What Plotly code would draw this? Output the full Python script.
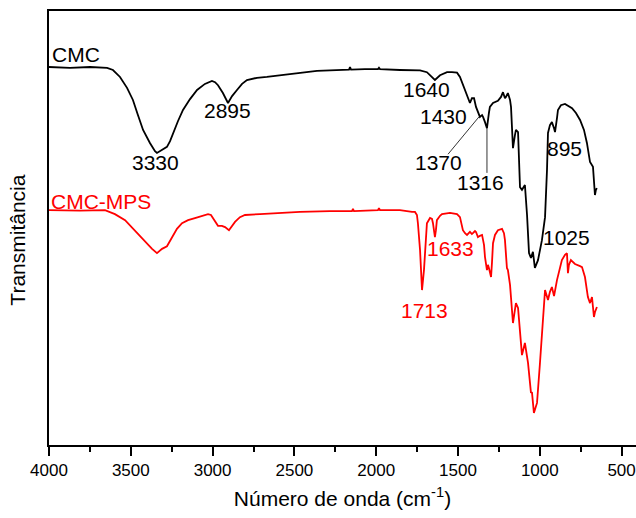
import plotly.graph_objects as go

# CMC spectrum (wavenumber cm-1, transmittance a.u.)
cmc_wn = [4000, 3872, 3749, 3645, 3609, 3566, 3523, 3487, 3456, 3425, 3383, 3352, 3340, 3309,
          3279, 3260, 3242, 3212, 3181, 3138, 3095, 3047, 3004, 2985, 2967, 2937, 2906, 2881,
          2851, 2820, 2790, 2729, 2668, 2570, 2466, 2362, 2283, 2166, 2160, 2154, 2069, 1989,
          1983, 1977, 1855, 1732, 1690, 1665, 1641, 1610, 1567, 1537, 1506, 1488, 1464, 1445,
          1427, 1415, 1402, 1390, 1378, 1366, 1353, 1347, 1335, 1323, 1311, 1305, 1286, 1256,
          1237, 1225, 1213, 1207, 1195, 1182, 1176, 1170, 1164, 1152, 1146, 1133, 1127, 1121,
          1109, 1091, 1078, 1066, 1054, 1042, 1030, 1011, 987, 968, 956, 950, 938, 926, 913,
          907, 895, 889, 871, 846, 803, 779, 754, 730, 712, 700, 693, 675, 669, 663, 657, 651]
cmc_t = [87.1, 86.9, 87.1, 86.9, 86.4, 84.8, 82.3, 79.5, 76.0, 72.6, 69.6, 67.7, 67.3, 68.0,
         68.7, 70.0, 71.9, 74.6, 77.2, 79.7, 81.8, 83.2, 83.9, 83.6, 82.9, 81.1, 78.8, 80.4,
         81.8, 83.2, 84.1, 84.6, 84.8, 85.2, 85.7, 86.2, 86.3, 86.5, 87.1, 86.5, 86.6, 86.6,
         86.9, 86.6, 86.4, 86.3, 85.9, 85.0, 84.1, 85.2, 85.9, 85.9, 85.8, 84.8, 82.3, 80.6,
         78.8, 79.9, 79.9, 77.9, 76.5, 75.6, 76.0, 75.6, 74.4, 73.0, 76.5, 77.9, 78.8, 79.3,
         80.2, 81.3, 79.9, 80.2, 81.1, 79.5, 77.9, 72.6, 68.4, 71.4, 72.6, 72.1, 65.7, 59.4,
         58.8, 59.9, 53.0, 44.2, 43.1, 44.5, 40.8, 42.6, 47.2, 52.5, 63.4, 71.9, 73.7, 74.4, 73.0,
         72.1, 75.3, 77.2, 78.3, 78.6, 77.6, 76.5, 74.9, 72.6, 69.6, 66.8, 65.2, 64.1, 61.1, 57.6,
         58.8, 59.2]

# CMC-MPS spectrum
mps_wn = [4000, 3811, 3658, 3597, 3535, 3474, 3413, 3370, 3340, 3309, 3279, 3248, 3218, 3187,
          3150, 3108, 3065, 3028, 3010, 2998, 2979, 2967, 2943, 2924, 2900, 2881, 2863, 2833,
          2802, 2710, 2600, 2466, 2283, 2148, 2142, 2136, 1989, 1983, 1977, 1855, 1781, 1763,
          1751, 1745, 1732, 1726, 1720, 1708, 1702, 1690, 1671, 1659, 1653, 1641, 1635, 1629,
          1610, 1598, 1549, 1506, 1488, 1476, 1470, 1457, 1445, 1427, 1415, 1409, 1396, 1390,
          1378, 1366, 1353, 1341, 1335, 1323, 1317, 1311, 1298, 1292, 1286, 1274, 1256, 1231,
          1219, 1213, 1207, 1201, 1195, 1182, 1164, 1146, 1133, 1121, 1109, 1091, 1072, 1054,
          1048, 1036, 1017, 999, 981, 968, 950, 938, 926, 913, 895, 877, 865, 846, 834, 828,
          822, 810, 785, 754, 742, 724, 706, 693, 681, 675, 669, 663, 651]
mps_t = [54.1, 54.0, 54.1, 53.2, 51.8, 49.3, 46.8, 45.2, 44.2, 45.2, 45.8, 47.9, 49.8, 51.1,
         51.8, 52.3, 52.8, 53.2, 53.0, 52.3, 50.9, 50.5, 50.5, 50.2, 49.5, 50.5, 51.4, 52.5,
         53.0, 53.2, 53.5, 53.7, 53.9, 53.9, 54.4, 53.9, 54.1, 54.6, 54.1, 54.1, 53.7, 53.7,
         53.0, 51.1, 44.9, 41.0, 35.7, 40.3, 44.9, 51.1, 52.3, 52.1, 51.1, 47.9, 49.5, 51.8,
         52.8, 53.2, 53.5, 53.2, 52.5, 50.7, 49.5, 48.8, 48.4, 49.1, 48.6, 48.8, 49.3, 49.1,
         47.9, 48.2, 48.4, 46.1, 43.3, 40.3, 41.5, 40.8, 38.7, 42.2, 46.5, 48.4, 49.5, 49.8,
         48.8, 47.2, 43.8, 40.8, 40.3, 36.9, 28.1, 32.7, 31.6, 26.5, 20.7, 23.5, 18.9, 12.0,
         12.2, 7.4, 9.7, 18.9, 29.5, 35.7, 33.4, 35.3, 36.4, 34.3, 38.0, 40.8, 42.6, 43.8, 44.2,
         39.6, 41.5, 42.6, 41.7, 41.2, 41.0, 38.7, 34.1, 32.7, 34.1, 31.8, 29.5, 30.6, 31.8]

# Peak labels: (text, x, y)
cmc_labels = ["CMC", "3330", "2895", "1640", "1430", "1370", "1316", "895", "1025"]
cmc_label_x = [3838, 3346, 2906, 1690, 1586, 1622, 1360, 852, 834]
cmc_label_y = [89.9, 65.2, 77.0, 82.0, 75.8, 65.0, 60.4, 68.4, 47.7]
mps_labels = ["CMC-MPS", "1633", "1713"]
mps_label_x = [3682, 1543, 1702]
mps_label_y = [56.2, 45.2, 31.1]

# leader lines (x0, y0, x1, y1)
leader_1370 = [1561, 67.0, 1372, 75.6]
leader_1316 = [1323, 62.7, 1323, 73.0]

FONT = "Liberation Sans, Arial, sans-serif"
RED = "#FF0000"

fig = go.Figure()
fig.add_trace(go.Scatter(x=cmc_wn, y=cmc_t, mode="lines", line=dict(color="black", width=1.8),
                         showlegend=False, hoverinfo="skip"))
fig.add_trace(go.Scatter(x=mps_wn, y=mps_t, mode="lines", line=dict(color=RED, width=1.8),
                         showlegend=False, hoverinfo="skip"))

for t, x, y in zip(cmc_labels, cmc_label_x, cmc_label_y):
    fig.add_annotation(x=x, y=y, text=t, showarrow=False, font=dict(family=FONT, size=21, color="black"),
                       xanchor="center", yanchor="middle")
for t, x, y in zip(mps_labels, mps_label_x, mps_label_y):
    fig.add_annotation(x=x, y=y, text=t, showarrow=False, font=dict(family=FONT, size=21, color=RED),
                       xanchor="center", yanchor="middle")

for ln in (leader_1370, leader_1316):
    fig.add_shape(type="line", x0=ln[0], y0=ln[1], x1=ln[2], y1=ln[3], xref="x", yref="y",
                  line=dict(color="black", width=0.8))

# y-axis title placed as a rotated annotation
fig.add_annotation(xref="paper", yref="paper", x=-0.0537, y=0.472, text="Transmitância",
                   textangle=-90, showarrow=False, xanchor="center", yanchor="middle",
                   font=dict(family=FONT, size=21, color="black"))

fig.update_layout(
    width=636, height=518,
    margin=dict(l=49, r=0, t=11, b=73),
    paper_bgcolor="white", plot_bgcolor="white",
    font=dict(family=FONT, color="black"),
    xaxis=dict(range=[4000, 412], tickmode="linear", tick0=500, dtick=500,
               ticks="outside", ticklen=9, tickwidth=2, tickcolor="black",
               minor=dict(ticks="outside", ticklen=5, tickwidth=2, tickcolor="black", dtick=250, tick0=250),
               showline=True, linewidth=2, linecolor="black", mirror=True,
               showgrid=False, zeroline=False,
               tickfont=dict(family=FONT, size=17, color="black"),
               title=dict(text="Número de onda (cm<sup>-1</sup>)", font=dict(family=FONT, size=21, color="black"),
                          standoff=12)),
    yaxis=dict(range=[0, 100], showticklabels=False, ticks="", showline=True, linewidth=2,
               linecolor="black", mirror=False, showgrid=False, zeroline=False),
)

fig.write_html("out.html")
